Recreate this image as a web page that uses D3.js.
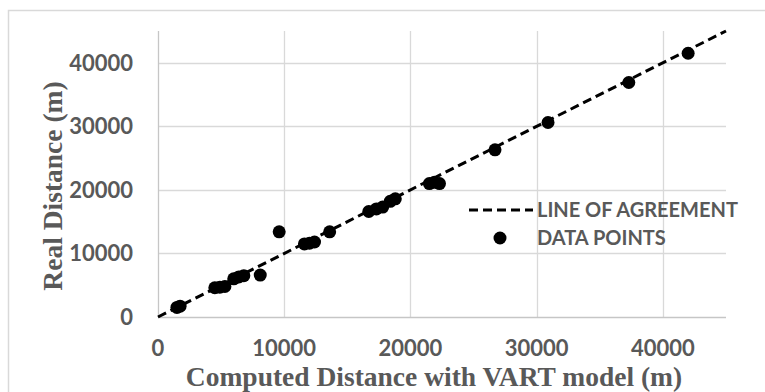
<!DOCTYPE html>
<html>
<head>
<meta charset="utf-8">
<script src="https://cdn.jsdelivr.net/npm/d3@7"></script>
<style>
  html, body { margin: 0; padding: 0; background: #fff; }
  svg { display: block; }
</style>
</head>
<body>
<svg id="chart" width="765" height="392"></svg>
<script>
// ---- data ----
const computedX = [1500, 1750, 4500, 4900, 5300, 6000, 6400, 6800, 8100, 9600, 11600, 12000, 12400, 13600, 16700, 17300, 17800, 18400, 18800, 21500, 21900, 22300, 26700, 30900, 37300, 42000];
const realY     = [1500, 1700, 4600, 4700, 4800, 6000, 6300, 6500, 6600, 13400, 11500, 11600, 11800, 13400, 16600, 17000, 17300, 18200, 18600, 21000, 21200, 21000, 26300, 30600, 36900, 41500];
const xTicks = [0, 10000, 20000, 30000, 40000];
const yTicks = [0, 10000, 20000, 30000, 40000];
const agreement = [[0, 0], [45000, 45000]];
const legendLabels = ["LINE OF AGREEMENT", "DATA POINTS"];
const xTitle = "Computed Distance with VART model (m)";
const yTitle = "Real Distance (m)";

(function () {
// ---- layout ----
const svg = d3.select("#chart");
const pL = 158, pR = 726, pT = 31, pB = 317;
const x = d3.scaleLinear().domain([0, 45000]).range([pL, pR]);
const y = d3.scaleLinear().domain([0, 45000]).range([pB, pT]);
const grey = "#595959";

// outer chart border
svg.append("rect").attr("x", 8.5).attr("y", 10.5).attr("width", 800).attr("height", 500)
  .attr("fill", "none").attr("stroke", "#d9d9d9").attr("stroke-width", 1.5);

// gridlines
const grid = svg.append("g");
grid.selectAll("line.h").data(yTicks.filter(d => d > 0)).join("line")
  .attr("x1", pL).attr("x2", pR).attr("y1", d => Math.round(y(d)) + 0.5).attr("y2", d => Math.round(y(d)) + 0.5)
  .attr("stroke", "#d9d9d9").attr("stroke-width", 1.3);
grid.selectAll("line.v").data(xTicks.filter(d => d > 0)).join("line")
  .attr("y1", pT).attr("y2", pB).attr("x1", d => Math.round(x(d)) + 0.5).attr("x2", d => Math.round(x(d)) + 0.5)
  .attr("stroke", "#d9d9d9").attr("stroke-width", 1.3);

// axes lines
svg.append("line").attr("x1", pL + 0.5).attr("x2", pL + 0.5).attr("y1", pT).attr("y2", pB)
  .attr("stroke", "#c6c6c6").attr("stroke-width", 1.3);
svg.append("line").attr("x1", pL).attr("x2", pR).attr("y1", pB + 0.5).attr("y2", pB + 0.5)
  .attr("stroke", "#c6c6c6").attr("stroke-width", 1.3);

// tick labels
const tickFont = "Lato, 'Open Sans', sans-serif";
svg.append("g").selectAll("text").data(yTicks).join("text")
  .attr("x", 133).attr("y", d => y(d)).attr("dy", "0.36em")
  .attr("text-anchor", "end").attr("font-family", tickFont).attr("font-weight", "bold")
  .attr("font-size", 22).attr("fill", grey).text(d => d);
svg.append("g").selectAll("text").data(xTicks).join("text")
  .attr("x", d => x(d)).attr("y", 356)
  .attr("text-anchor", "middle").attr("font-family", tickFont).attr("font-weight", "bold")
  .attr("font-size", 22).attr("fill", grey).text(d => d);

// axis titles
svg.append("text").attr("x", 434).attr("y", 386).attr("text-anchor", "middle")
  .attr("font-family", "'Liberation Serif', 'Times New Roman', serif").attr("font-weight", "bold")
  .attr("font-size", 27.5).attr("fill", grey).text(xTitle);
svg.append("text").attr("transform", "translate(62,186) rotate(-90)").attr("text-anchor", "middle")
  .attr("font-family", "'Liberation Serif', 'Times New Roman', serif").attr("font-weight", "bold")
  .attr("font-size", 27.5).attr("fill", grey).text(yTitle);

// line of agreement
const line = d3.line().x(d => x(d[0])).y(d => y(d[1]));
svg.append("path").datum(agreement).attr("d", line)
  .attr("fill", "none").attr("stroke", "#000").attr("stroke-width", 3).attr("stroke-dasharray", "9,5");

// points
svg.append("g").selectAll("circle").data(computedX.map((v, i) => [v, realY[i]])).join("circle")
  .attr("cx", d => x(d[0])).attr("cy", d => y(d[1])).attr("r", 6.5).attr("fill", "#000");

// legend
const lg = svg.append("g");
lg.append("line").attr("x1", 469).attr("x2", 533).attr("y1", 210).attr("y2", 210)
  .attr("stroke", "#000").attr("stroke-width", 3).attr("stroke-dasharray", "9,5");
lg.append("circle").attr("cx", 500).attr("cy", 238).attr("r", 6.5).attr("fill", "#000");
lg.selectAll("text").data(legendLabels).join("text")
  .attr("x", 537).attr("y", (d, i) => 210 + i * 28).attr("dy", "0.36em")
  .attr("font-family", tickFont).attr("font-weight", "bold").attr("font-size", 20)
  .attr("fill", grey).text(d => d);
})();
</script>
</body>
</html>
